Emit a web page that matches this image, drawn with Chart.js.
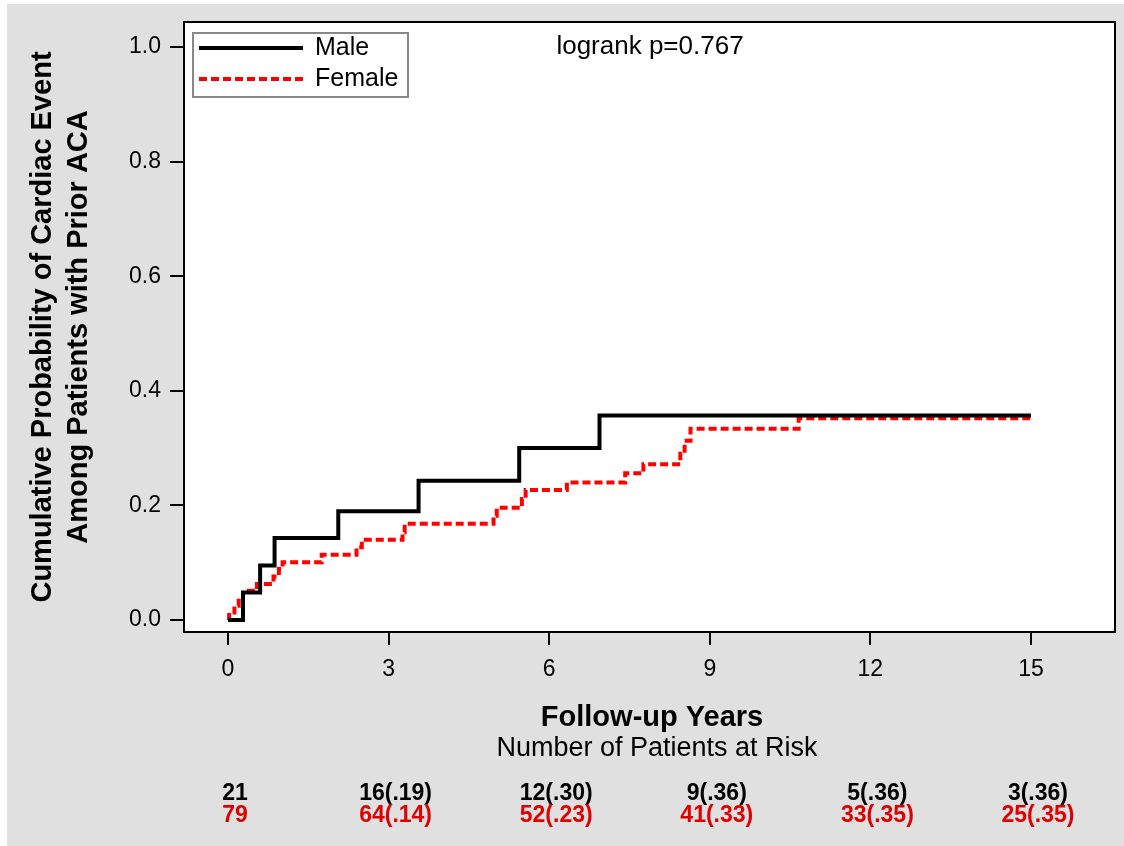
<!DOCTYPE html>
<html>
<head>
<meta charset="utf-8">
<title>Cumulative probability of cardiac event by sex</title>
<script src="https://cdn.jsdelivr.net/npm/chart.js@4.4.1/dist/chart.umd.min.js"></script>
<style>
  html, body { margin: 0; padding: 0; background: #fff; }
  #chart { display: block; }
</style>
</head>
<body>
<canvas id="chart" width="1124" height="846"></canvas>
<script>
// step points: follow-up years / cumulative probability
const maleYears = [0, 0.28, 0.6, 0.87, 2.06, 3.56, 5.44, 6.94, 15];
const maleProb  = [0, 0.048, 0.095, 0.143, 0.19, 0.243, 0.30, 0.357, 0.357];

const femaleYears = [0, 0.02, 0.12, 0.2, 0.28, 0.54, 0.85, 0.95, 1.02, 1.75, 2.40, 2.50,
                     3.26, 3.30, 4.96, 5.02, 5.49, 5.56, 6.33, 7.42, 7.76, 8.45, 8.53, 8.64, 10.66, 15];
const femaleProb  = [0, 0.013, 0.025, 0.038, 0.051, 0.063, 0.076, 0.089, 0.101, 0.114, 0.127, 0.140,
                     0.153, 0.168, 0.182, 0.196, 0.211, 0.227, 0.240, 0.256, 0.272, 0.290, 0.313, 0.334, 0.352, 0.352];

const xTicks = [0, 3, 6, 9, 12, 15];
const yTicks = [0, 0.2, 0.4, 0.6, 0.8, 1.0];

// number at risk table
const riskYears = [0, 3, 6, 9, 12, 15];
const maleAtRisk = [21, 16, 12, 9, 5, 3];
const maleCumRisk = [null, 0.19, 0.30, 0.36, 0.36, 0.36];
const femaleAtRisk = [79, 64, 52, 41, 33, 25];
const femaleCumRisk = [null, 0.14, 0.23, 0.33, 0.35, 0.35];

const pValueText = 'logrank p=0.767';

const FONT = '"Liberation Sans", Arial, sans-serif';

function toPoints(xs, ys) {
  return xs.map((x, i) => ({ x: x, y: ys[i] }));
}

function riskLabel(n, p) {
  if (p === null) return String(n);
  return n + '(' + p.toFixed(2).replace(/^0/, '') + ')';
}

const decorations = {
  id: 'decorations',
  beforeDraw(chart) {
    const { ctx, chartArea: a } = chart;
    ctx.save();
    ctx.fillStyle = '#ffffff';
    ctx.fillRect(0, 0, chart.width, chart.height);
    ctx.fillStyle = '#e0e0e0';
    ctx.fillRect(7, 4, chart.width - 7, chart.height - 4);
    ctx.fillStyle = '#ffffff';
    ctx.fillRect(a.left, a.top, a.right - a.left, a.bottom - a.top);
    ctx.restore();
  },
  afterDraw(chart) {
    const { ctx, chartArea: a } = chart;
    const xs = chart.scales.x;
    ctx.save();

    // frame
    ctx.strokeStyle = '#000';
    ctx.lineWidth = 2;
    ctx.strokeRect(a.left, a.top, a.right - a.left, a.bottom - a.top);

    // legend box inside plot
    const lx = a.left + 9, ly = a.top + 11;
    ctx.fillStyle = '#fff';
    ctx.fillRect(lx, ly, 215, 64);
    ctx.strokeStyle = '#888';
    ctx.lineWidth = 2;
    ctx.strokeRect(lx, ly, 215, 64);
    chart.data.datasets.forEach((ds, i) => {
      const y = ly + 15 + i * 31;
      ctx.beginPath();
      ctx.strokeStyle = ds.borderColor;
      ctx.lineWidth = ds.borderWidth;
      ctx.setLineDash(ds.borderDash || []);
      ctx.moveTo(lx + 6, y);
      ctx.lineTo(lx + 110, y);
      ctx.stroke();
      ctx.setLineDash([]);
      ctx.fillStyle = '#000';
      ctx.font = '25px ' + FONT;
      ctx.textAlign = 'left';
      ctx.textBaseline = 'middle';
      ctx.fillText(ds.label, lx + 122, y);
    });

    // p value
    ctx.fillStyle = '#000';
    ctx.font = '26px ' + FONT;
    ctx.textAlign = 'center';
    ctx.textBaseline = 'middle';
    ctx.fillText(pValueText, 650, 47);

    // x axis title and risk table heading
    ctx.font = 'bold 29px ' + FONT;
    ctx.fillText('Follow-up Years', 652, 718);
    ctx.font = '27px ' + FONT;
    ctx.fillText('Number of Patients at Risk', 657, 749);

    // numbers at risk
    ctx.font = 'bold 23px ' + FONT;
    riskYears.forEach((t, i) => {
      const px = xs.getPixelForValue(t) + 7;
      ctx.fillStyle = '#000';
      ctx.fillText(riskLabel(maleAtRisk[i], maleCumRisk[i]), px, 794);
      ctx.fillStyle = '#e00000';
      ctx.fillText(riskLabel(femaleAtRisk[i], femaleCumRisk[i]), px, 816);
    });

    ctx.restore();
  }
};

new Chart(document.getElementById('chart'), {
  type: 'line',
  data: {
    datasets: [{
      label: 'Male',
      data: toPoints(maleYears, maleProb),
      borderColor: '#000000',
      borderWidth: 4,
      stepped: true,
      pointRadius: 0,
      fill: false
    }, {
      label: 'Female',
      data: toPoints(femaleYears, femaleProb),
      borderColor: '#ff0000',
      borderWidth: 4,
      borderDash: [8, 4],
      stepped: true,
      pointRadius: 0,
      fill: false
    }]
  },
  options: {
    responsive: false,
    animation: false,
    layout: { padding: { top: 22, right: 9, left: 0, bottom: 0 } },
    plugins: {
      legend: { display: false },
      tooltip: { enabled: false }
    },
    scales: {
      x: {
        type: 'linear',
        min: -0.822,
        max: 16.57,
        afterBuildTicks: s => { s.ticks = xTicks.map(v => ({ value: v })); },
        afterFit: s => { s.height = 214; s.paddingLeft = 0; s.paddingRight = 0; },
        grid: { drawOnChartArea: false, drawTicks: true, tickLength: 13, color: '#000', lineWidth: 2 },
        border: { display: true, color: '#000', width: 2 },
        ticks: {
          color: '#000',
          font: { family: FONT, size: 23 },
          padding: 11,
          maxRotation: 0,
          callback: v => String(v)
        }
      },
      y: {
        min: -0.0209,
        max: 1.0436,
        afterBuildTicks: s => { s.ticks = yTicks.map(v => ({ value: v })); },
        afterFit: s => { s.width = 184; s.paddingTop = 0; s.paddingBottom = 0; },
        grid: { drawOnChartArea: false, drawTicks: true, tickLength: 14, color: '#000', lineWidth: 2 },
        border: { display: true, color: '#000', width: 2 },
        ticks: {
          color: '#000',
          font: { family: FONT, size: 23 },
          padding: 9,
          callback: v => Number(v).toFixed(1)
        },
        title: {
          display: true,
          text: ['Cumulative Probability of Cardiac Event', 'Among Patients with Prior ACA'],
          color: '#000',
          font: { family: FONT, size: 29, weight: 'bold', lineHeight: 1.24 },
          padding: { top: 25, bottom: 0 }
        }
      }
    }
  },
  plugins: [decorations]
});
</script>
</body>
</html>
